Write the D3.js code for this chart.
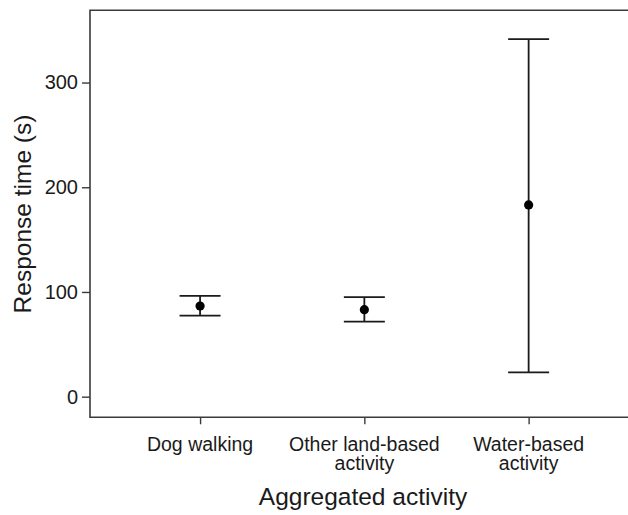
<!DOCTYPE html>
<html>
<head>
<meta charset="utf-8">
<script src="https://cdn.jsdelivr.net/npm/d3@7"></script>
<style>
  html, body { margin: 0; padding: 0; background: #fff; }
  svg { display: block; font-family: "Liberation Sans", Arial, sans-serif; }
</style>
</head>
<body>
<svg id="chart" width="628" height="515"></svg>
<script>
// Mean response time with 95% confidence interval by aggregated activity
const categories = ["Dog walking", "Other land-based activity", "Water-based activity"];
const categoryLines = [["Dog walking"], ["Other land-based", "activity"], ["Water-based", "activity"]];
const means = [86.6, 83.1, 183.1];
const lowerCI = [77.4, 71.6, 23.3];
const upperCI = [96.2, 95.0, 341.4];
const yTicks = [0, 100, 200, 300];

const svg = d3.select("#chart");
const frame = { left: 90, top: 10.3, bottom: 417.3, right: 628 };
const ink = "#1a1a1a";
const frameColor = "#3a3a3a";

const y = d3.scaleLinear().domain([-19.7, 369]).range([frame.bottom, frame.top]);
const x = d3.scalePoint().domain(categories).range([frame.left, 638.7]).padding(0.67);

// Frame: left, top and bottom rules
svg.append("path")
  .attr("d", `M${frame.right},${frame.top}H${frame.left}V${frame.bottom}H${frame.right}`)
  .attr("fill", "none").attr("stroke", frameColor).attr("stroke-width", 1.6);

// Y axis
const yAxis = svg.append("g")
  .attr("transform", `translate(${frame.left},0)`)
  .call(d3.axisLeft(y).tickValues(yTicks).tickSize(8).tickPadding(4));
yAxis.select(".domain").remove();
yAxis.selectAll(".tick line").attr("stroke", frameColor).attr("stroke-width", 1.4);
yAxis.selectAll(".tick text")
  .attr("fill", ink).attr("font-size", 20).attr("font-family", "Liberation Sans, Arial, sans-serif");

// X axis
const xAxis = svg.append("g")
  .attr("transform", `translate(0,${frame.bottom})`)
  .call(d3.axisBottom(x).tickSize(7).tickFormat(""));
xAxis.select(".domain").remove();
xAxis.selectAll(".tick line").attr("stroke", frameColor).attr("stroke-width", 1.4);
xAxis.selectAll(".tick text").remove();

// Category labels (multi-line)
const labels = svg.append("g")
  .attr("font-size", 19.5).attr("fill", ink).attr("text-anchor", "middle");
categories.forEach((c, i) => {
  const t = labels.append("text").attr("x", x(c)).attr("y", 451);
  categoryLines[i].forEach((line, j) => {
    t.append("tspan").attr("x", x(c)).attr("dy", j === 0 ? 0 : 19).text(line);
  });
});

// Axis titles
svg.append("text")
  .attr("x", 363).attr("y", 505)
  .attr("text-anchor", "middle").attr("font-size", 24.5).attr("fill", ink)
  .text("Aggregated activity");
svg.append("text")
  .attr("transform", "translate(31,214) rotate(-90)")
  .attr("text-anchor", "middle").attr("font-size", 24.5).attr("fill", ink)
  .text("Response time (s)");

// Error bars
const capHalf = 20.5;
const bars = svg.append("g").attr("stroke", ink).attr("stroke-width", 1.8).attr("fill", "none");
categories.forEach((c, i) => {
  const cx = x(c);
  bars.append("line").attr("x1", cx).attr("x2", cx).attr("y1", y(lowerCI[i])).attr("y2", y(upperCI[i]));
  bars.append("line").attr("x1", cx - capHalf).attr("x2", cx + capHalf).attr("y1", y(upperCI[i])).attr("y2", y(upperCI[i]));
  bars.append("line").attr("x1", cx - capHalf).attr("x2", cx + capHalf).attr("y1", y(lowerCI[i])).attr("y2", y(lowerCI[i]));
});

// Mean points
svg.append("g").selectAll("circle")
  .data(categories)
  .join("circle")
  .attr("cx", d => x(d))
  .attr("cy", (d, i) => y(means[i]))
  .attr("r", 4.6)
  .attr("fill", "#000");
</script>
</body>
</html>
